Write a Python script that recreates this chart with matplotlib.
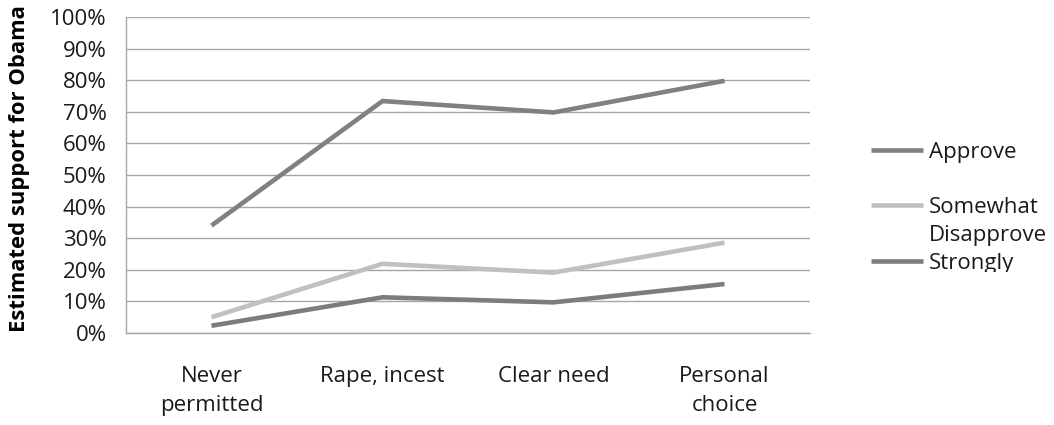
import matplotlib
matplotlib.use("Agg")
import matplotlib.pyplot as plt
from matplotlib.ticker import MultipleLocator, PercentFormatter

plt.rcParams["font.family"] = ["Open Sans", "DejaVu Sans"]

# Estimated Obama support by abortion stance and approval group
categories = ["Never\npermitted", "Rape, incest", "Clear need", "Personal\nchoice"]
approve = [34.0, 73.4, 69.8, 79.8]
somewhat = [5.0, 21.9, 19.1, 28.6]
strongly = [2.3, 11.3, 9.7, 15.5]

series_labels = ["Approve", "Somewhat\nDisapprove", "Strongly\nDisapprove"]
series_colors = ["#808080", "#c0c0c0", "#7c7c7c"]

FS = 16
W, H = 1054, 425
fig = plt.figure(figsize=(W / 100, H / 100), dpi=100)
ax = fig.add_axes([126 / W, 1 - 333 / H, (810 - 126) / W, (333 - 17) / H])

x = range(len(categories))
for values, color in zip([approve, somewhat, strongly], series_colors):
    ax.plot(x, values, color=color, lw=3.3, solid_capstyle="butt", zorder=3)

ax.set_xlim(-0.5, len(categories) - 0.5)
ax.set_ylim(0, 100)
ax.yaxis.set_major_locator(MultipleLocator(10))
ax.yaxis.set_major_formatter(PercentFormatter(decimals=0))
ax.set_xticks(list(x))
ax.set_xticklabels(categories, fontsize=FS, color="#1a1a1a", linespacing=1.5)
ax.tick_params(axis="both", length=0, labelsize=FS, labelcolor="#1a1a1a")
ax.tick_params(axis="x", pad=24)
ax.tick_params(axis="y", pad=14)
ax.grid(axis="y", color="#a6a6a6", lw=1.0)
ax.set_axisbelow(True)
for side in ["top", "right"]:
    ax.spines[side].set_visible(False)
for side in ["left", "bottom"]:
    ax.spines[side].set_color("#a6a6a6")
    ax.spines[side].set_linewidth(1.0)

ax.set_ylabel("Estimated support for Obama", fontsize=15.8, fontweight="bold")
ax.yaxis.set_label_coords(-96 / (810 - 126), 0.52)

# legend drawn by hand so the last entry is cut off like the layout box
leg = fig.add_axes([860 / W, 1 - 272 / H, (W - 860) / W, (272 - 130) / H])
leg.set_xlim(860, W)
leg.set_ylim(272, 130)
leg.axis("off")
for label, color, ly in zip(series_labels, series_colors, [150, 205, 261]):
    leg.plot([871, 923], [ly, ly], color=color, lw=3.3, solid_capstyle="butt")
    leg.text(929, ly - 8, label, fontsize=FS, color="#1a1a1a", va="top",
             ha="left", linespacing=1.45, clip_on=True)

fig.savefig("out.png", dpi=100)
